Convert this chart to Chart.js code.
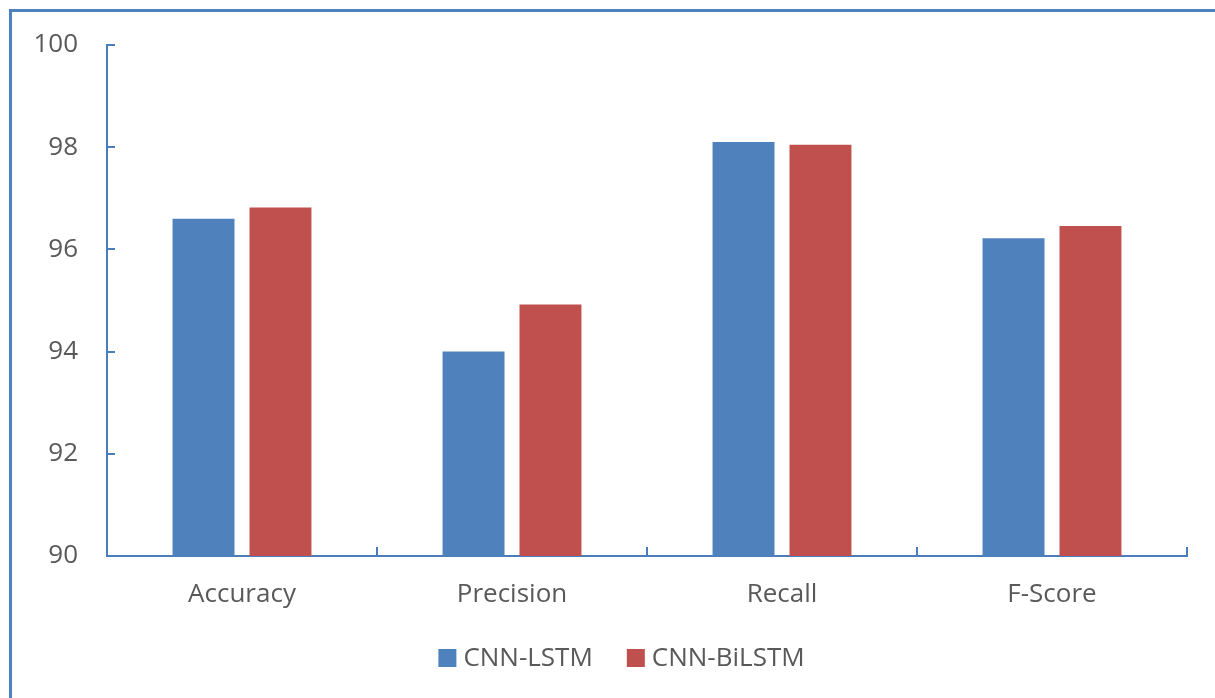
<!DOCTYPE html>
<html>
<head>
<meta charset="utf-8">
<script src="https://cdn.jsdelivr.net/npm/chart.js@4/dist/chart.umd.min.js"></script>
<style>
  html, body { margin: 0; padding: 0; background: #ffffff; }
  #wrap { width: 1215px; height: 698px; position: relative; }
</style>
</head>
<body>
<div id="wrap"><canvas id="c" width="1215" height="698"></canvas></div>
<script>
const categories = ["Accuracy", "Precision", "Recall", "F-Score"];
const seriesNames = ["CNN-LSTM", "CNN-BiLSTM"];
const cnnLstm = [96.6, 94.0, 98.1, 96.22];
const cnnBiLstm = [96.82, 94.92, 98.05, 96.46];
const yTicks = [90, 92, 94, 96, 98, 100];

const AXIS = '#4a7ebb';
const TEXT = '#595959';
const FONT = "'Open Sans', 'DejaVu Sans', sans-serif";

const decor = {
  id: 'decor',
  afterDraw(chart) {
    const ctx = chart.ctx;
    const x = chart.scales.x, y = chart.scales.y;
    const area = chart.chartArea;
    ctx.save();
    // outer frame
    ctx.strokeStyle = '#4f81bd';
    ctx.lineWidth = 3;
    ctx.beginPath();
    ctx.moveTo(10.5, 720);
    ctx.lineTo(10.5, 10.5);
    ctx.lineTo(1240, 10.5);
    ctx.stroke();
    // inner y ticks
    ctx.strokeStyle = AXIS;
    ctx.lineWidth = 2;
    ctx.beginPath();
    yTicks.forEach(v => {
      if (v === y.min) return;
      const py = Math.round(y.getPixelForValue(v));
      ctx.moveTo(area.left, py);
      ctx.lineTo(area.left + 8, py);
    });
    // x category boundary ticks
    const n = categories.length;
    const step = x.getPixelForValue(1) - x.getPixelForValue(0);
    for (let i = 1; i <= n; i++) {
      const px = Math.round(x.getPixelForValue(i - 1) + step / 2);
      ctx.moveTo(px, area.bottom);
      ctx.lineTo(px, area.bottom - 9);
    }
    ctx.stroke();
    // legend
    ctx.font = '26px ' + FONT;
    ctx.textBaseline = 'middle';
    ctx.textAlign = 'left';
    const box = 18, gap = 7, spacing = 34;
    const ds = chart.data.datasets;
    const widths = ds.map(d => ctx.measureText(d.label).width);
    let total = 0;
    ds.forEach((d, i) => { total += box + gap + widths[i]; if (i < ds.length - 1) total += spacing; });
    let lx = 621.5 - total / 2;
    const cy = 658;
    ds.forEach((d, i) => {
      ctx.fillStyle = d.backgroundColor;
      ctx.fillRect(lx, cy - box / 2, box, box);
      ctx.fillStyle = TEXT;
      ctx.fillText(d.label, lx + box + gap, cy + 1);
      lx += box + gap + widths[i] + spacing;
    });
    ctx.restore();
  }
};

new Chart(document.getElementById('c'), {
  type: 'bar',
  data: {
    labels: categories,
    datasets: [
      { label: seriesNames[0], data: cnnLstm, backgroundColor: '#4f81bd' },
      { label: seriesNames[1], data: cnnBiLstm, backgroundColor: '#c0504d' }
    ]
  },
  options: {
    responsive: false,
    animation: false,
    devicePixelRatio: 1,
    layout: { padding: { left: 0, right: 28, top: 45, bottom: 67 } },
    datasets: { bar: { categoryPercentage: 0.57, barPercentage: 0.805 } },
    plugins: { legend: { display: false }, tooltip: { enabled: false } },
    scales: {
      x: {
        grid: { display: false, drawTicks: false },
        border: { display: true, color: AXIS, width: 2 },
        ticks: { color: TEXT, font: { family: FONT, size: 26 }, padding: 23 },
        afterFit(s) { s.height = 75; }
      },
      y: {
        min: 90, max: 100,
        grid: { display: false, drawTicks: false },
        border: { display: true, color: AXIS, width: 2 },
        ticks: { stepSize: 2, color: TEXT, font: { family: FONT, size: 26 }, padding: 29 },
        afterFit(s) { s.width = 107; }
      }
    }
  },
  plugins: [decor]
});
</script>
</body>
</html>
